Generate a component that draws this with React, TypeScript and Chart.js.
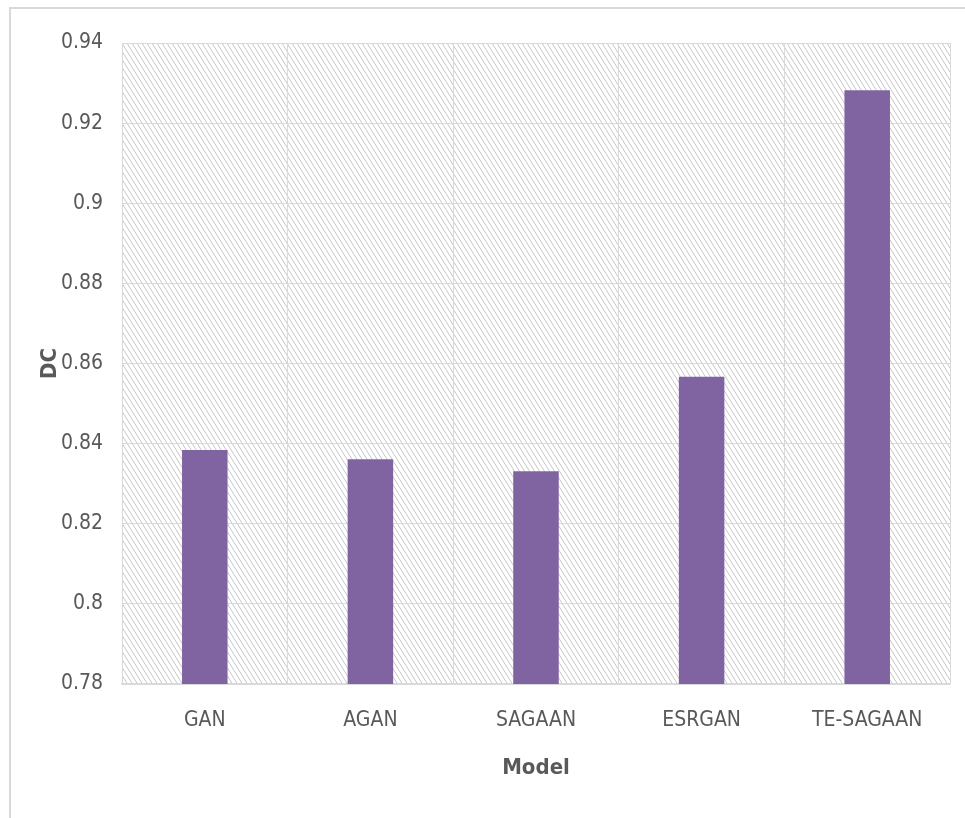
import React, { useEffect, useRef } from "react";
import { Chart, registerables } from "chart.js";

Chart.register(...registerables);

// Dice coefficient per model
const models = ["GAN", "AGAN", "SAGAAN", "ESRGAN", "TE-SAGAAN"];
const dcValues = [0.8384, 0.8361, 0.8331, 0.8567, 0.9282];

// Value axis range and step
const yMin = 0.78;
const yMax = 0.94;
const yStep = 0.02;

const xTitle = "Model";
const yTitle = "DC";

const FONT = "'Liberation Sans Narrow', 'DejaVu Sans Condensed', 'Roboto Condensed', 'Liberation Sans', sans-serif";
const TEXT = "#595959";
const GRID = "#d9d9d9";
const BAR = "#8064a2";

function makeHatch(): CanvasPattern | string {
  const tile = document.createElement("canvas");
  tile.width = 5;
  tile.height = 8;
  const t = tile.getContext("2d");
  if (!t) return "#ffffff";
  t.fillStyle = "#ffffff";
  t.fillRect(0, 0, 5, 8);
  t.strokeStyle = "#c6c6c6";
  t.lineWidth = 1;
  for (const x0 of [-5, 0, 5]) {
    t.beginPath();
    t.moveTo(x0, 0);
    t.lineTo(x0 + 5, 8);
    t.stroke();
  }
  const p = t.createPattern(tile, "repeat");
  return p || "#ffffff";
}

// Hatched plot background and the thin outer frame
const decor = {
  id: "decor",
  beforeDraw(chart: any) {
    const { ctx, chartArea } = chart;
    ctx.save();
    ctx.fillStyle = "#ffffff";
    ctx.fillRect(0, 0, chart.width, chart.height);
    ctx.strokeStyle = GRID;
    ctx.lineWidth = 2;
    ctx.beginPath();
    ctx.moveTo(10, chart.height);
    ctx.lineTo(10, 8);
    ctx.lineTo(chart.width, 8);
    ctx.stroke();
    ctx.fillStyle = makeHatch();
    ctx.fillRect(
      chartArea.left,
      chartArea.top,
      chartArea.right - chartArea.left,
      chartArea.bottom - chartArea.top
    );
    ctx.restore();
  },
};

export default function App() {
  const ref = useRef<HTMLCanvasElement | null>(null);

  useEffect(() => {
    document.body.style.margin = "0";
    const canvas = ref.current;
    if (!canvas) return;
    const chart = new Chart(canvas, {
      type: "bar",
      data: {
        labels: models,
        datasets: [
          {
            label: yTitle,
            data: dcValues,
            backgroundColor: BAR,
            borderWidth: 0,
            categoryPercentage: 1,
            barPercentage: 0.275,
          },
        ],
      },
      options: {
        animation: false,
        responsive: false,
        devicePixelRatio: 1,
        layout: { padding: { left: 37, top: 43, right: 15, bottom: 30 } },
        plugins: {
          legend: { display: false },
          tooltip: { enabled: false },
        },
        scales: {
          x: {
            offset: true,
            grid: { color: GRID, lineWidth: 1, drawTicks: false, offset: true },
            border: { color: GRID, width: 1.5 },
            ticks: {
              color: TEXT,
              padding: 24,
              font: { family: FONT, size: 21 },
              maxRotation: 0,
            },
            title: {
              display: true,
              text: xTitle,
              color: TEXT,
              font: { family: FONT, size: 22, weight: "bold" },
              padding: { top: 0, bottom: 7 },
            },
            afterFit(scale: any) {
              scale.height = 104;
            },
          },
          y: {
            min: yMin,
            max: yMax,
            grid: { color: GRID, lineWidth: 1, drawTicks: false },
            border: { display: false },
            ticks: {
              stepSize: yStep,
              color: TEXT,
              padding: 19,
              font: { family: FONT, size: 21 },
              callback: (v: any) => String(Number(Number(v).toFixed(2))),
            },
            title: {
              display: true,
              text: yTitle,
              color: TEXT,
              font: { family: FONT, size: 22, weight: "bold" },
              padding: { top: 0, bottom: 0 },
            },
            afterFit(scale: any) {
              scale.width = 85;
            },
          },
        },
      },
      plugins: [decor],
    });
    return () => chart.destroy();
  }, []);

  return <canvas ref={ref} width={965} height={818} style={{ display: "block", width: 965, height: 818 }} />;
}
